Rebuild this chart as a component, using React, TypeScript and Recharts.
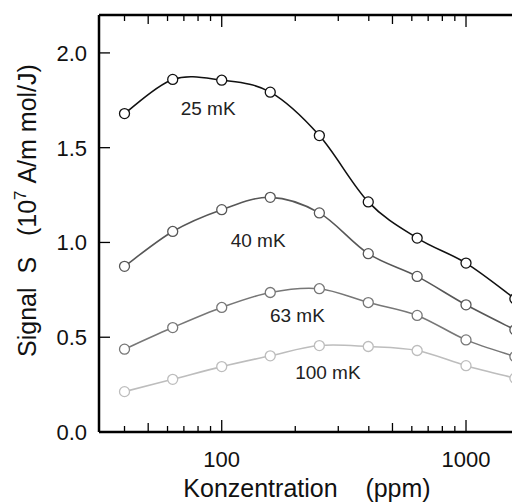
import { Line, LineChart, ReferenceDot, XAxis, YAxis } from "recharts";

// concentration in ppm (log axis)
const concentrations = [40, 63, 100, 158, 251, 398, 631, 1000, 1585];

// signal S in 10^7 A/m mol/J
const signal25mK = [1.68, 1.86, 1.856, 1.793, 1.564, 1.214, 1.023, 0.891, 0.703];
const signal40mK = [0.874, 1.058, 1.173, 1.238, 1.156, 0.941, 0.821, 0.671, 0.539];
const signal63mK = [0.437, 0.551, 0.657, 0.736, 0.756, 0.683, 0.615, 0.486, 0.398];
const signal100mK = [0.213, 0.278, 0.345, 0.402, 0.456, 0.451, 0.43, 0.35, 0.284];

const seriesNames = ["25 mK", "40 mK", "63 mK", "100 mK"];
const xTicks = [40, 50, 60, 70, 80, 90, 100, 200, 300, 400, 500, 600, 700, 800, 900, 1000];
const xLabelTicks = [100, 1000];
const xMidTicks = [50, 500];
const yTicks = [0, 0.5, 1.0, 1.5, 2.0];

const data = concentrations.map((c, i) => ({
  c,
  s25: signal25mK[i],
  s40: signal40mK[i],
  s63: signal63mK[i],
  s100: signal100mK[i],
}));

const series = [
  { key: "s25", name: seriesNames[0], color: "#111111", at: [88, 1.71] },
  { key: "s40", name: seriesNames[1], color: "#575757", at: [141, 1.013] },
  { key: "s63", name: seriesNames[2], color: "#777777", at: [204, 0.617] },
  { key: "s100", name: seriesNames[3], color: "#bdbdbd", at: [272, 0.314] },
];

const FONT = '"Liberation Sans", Arial, Helvetica, sans-serif';

// plain catmull-rom through the points, looks closer to the fitted curves than monotone
function smoothCurve(context: any) {
  let pts: number[][] = [];
  return {
    areaStart() {},
    areaEnd() {},
    lineStart() {
      pts = [];
    },
    point(x: number, y: number) {
      pts.push([+x, +y]);
    },
    lineEnd() {
      if (!pts.length) return;
      context.moveTo(pts[0][0], pts[0][1]);
      for (let i = 0; i < pts.length - 1; i++) {
        const p0 = pts[i - 1] || pts[i];
        const p1 = pts[i];
        const p2 = pts[i + 1];
        const p3 = pts[i + 2] || p2;
        context.bezierCurveTo(
          p1[0] + (p2[0] - p0[0]) / 6,
          p1[1] + (p2[1] - p0[1]) / 6,
          p2[0] - (p3[0] - p1[0]) / 6,
          p2[1] - (p3[1] - p1[1]) / 6,
          p2[0],
          p2[1]
        );
      }
    },
  };
}

const tickLen = (v: number) => (xLabelTicks.includes(v) ? 12 : xMidTicks.includes(v) ? 9 : 6);

function BottomTick({ x, y, payload }: any) {
  const v = payload.value;
  return (
    <g>
      <line x1={x} x2={x} y1={y} y2={y - tickLen(v)} stroke="#000" strokeWidth={1.3} />
      {xLabelTicks.includes(v) && (
        <text x={x} y={y + 35} textAnchor="middle" fontSize={22} fontFamily={FONT} fill="#111">
          {v}
        </text>
      )}
    </g>
  );
}

function TopTick({ x, y, payload }: any) {
  return <line x1={x} x2={x} y1={y} y2={y + tickLen(payload.value)} stroke="#000" strokeWidth={1.3} />;
}

function LeftTick({ x, y, payload }: any) {
  return (
    <g>
      <line x1={x} x2={x + 11} y1={y} y2={y} stroke="#000" strokeWidth={1.3} />
      <text x={x - 12} y={y + 8} textAnchor="end" fontSize={22} fontFamily={FONT} fill="#111">
        {payload.value.toFixed(1)}
      </text>
    </g>
  );
}

function RightTick({ x, y }: any) {
  return <line x1={x} x2={x - 11} y1={y} y2={y} stroke="#000" strokeWidth={1.3} />;
}

function YTitle() {
  return (
    <text
      transform="translate(36,357) rotate(-90)"
      textAnchor="start"
      fontSize={25}
      fontFamily={FONT}
      fill="#111"
    >
      {"Signal\u00a0\u00a0S\u00a0\u00a0\u00a0(10"}
      <tspan dy={-10} fontSize={17}>
        7
      </tspan>
      <tspan dy={10}>{"\u00a0A/m\u00a0mol/J)"}</tspan>
    </text>
  );
}

function XTitle() {
  return (
    <text x={307} y={497} textAnchor="middle" fontSize={25} fontFamily={FONT} fill="#111">
      {"Konzentration\u00a0\u00a0\u00a0\u00a0(ppm)"}
    </text>
  );
}

export default function App() {
  return (
    <div style={{ position: "fixed", left: 0, top: 0, width: 512, height: 503, overflow: "hidden", background: "#fff" }}>
      <LineChart width={560} height={503} data={data} margin={{ top: 0, right: 0, bottom: 0, left: 0 }}>
        <XAxis
          xAxisId="b"
          dataKey="c"
          type="number"
          scale="log"
          domain={[31.45, 1572]}
          allowDataOverflow
          ticks={xTicks}
          interval={0}
          height={71}
          tickSize={0}
          tickMargin={0}
          tick={<BottomTick />}
          axisLine={{ stroke: "#000", strokeWidth: 2.5 }}
          label={<XTitle />}
        />
        <XAxis
          xAxisId="t"
          orientation="top"
          dataKey="c"
          type="number"
          scale="log"
          domain={[31.45, 1572]}
          allowDataOverflow
          ticks={xTicks}
          interval={0}
          height={15}
          tickSize={0}
          tickMargin={0}
          tick={<TopTick />}
          axisLine={{ stroke: "#000", strokeWidth: 2.3 }}
        />
        <YAxis
          yAxisId="l"
          type="number"
          domain={[0, 2.2]}
          ticks={yTicks}
          interval={0}
          width={99}
          tickSize={0}
          tickMargin={0}
          tick={<LeftTick />}
          axisLine={{ stroke: "#000", strokeWidth: 2.5 }}
          label={<YTitle />}
        />
        <YAxis
          yAxisId="r"
          orientation="right"
          type="number"
          domain={[0, 2.2]}
          ticks={yTicks}
          interval={0}
          width={46}
          tickSize={0}
          tickMargin={0}
          tick={<RightTick />}
          axisLine={{ stroke: "#000", strokeWidth: 2.5 }}
        />
        {series.map((s) => (
          <Line
            key={s.key}
            xAxisId="b"
            yAxisId="l"
            dataKey={s.key}
            name={s.name}
            type={smoothCurve as any}
            stroke={s.color}
            strokeWidth={1.6}
            dot={{ r: 5, fill: "#fff", stroke: s.color, strokeWidth: 1.3 }}
            isAnimationActive={false}
          />
        ))}
        {series.map((s) => (
          <ReferenceDot
            key={"lbl" + s.key}
            xAxisId="b"
            yAxisId="l"
            x={s.at[0]}
            y={s.at[1]}
            r={0}
            shape={(p: any) => (
              <text x={p.cx} y={p.cy + 7} textAnchor="middle" fontSize={19} fontFamily={FONT} fill="#222">
                {s.name}
              </text>
            )}
          />
        ))}
      </LineChart>
    </div>
  );
}
